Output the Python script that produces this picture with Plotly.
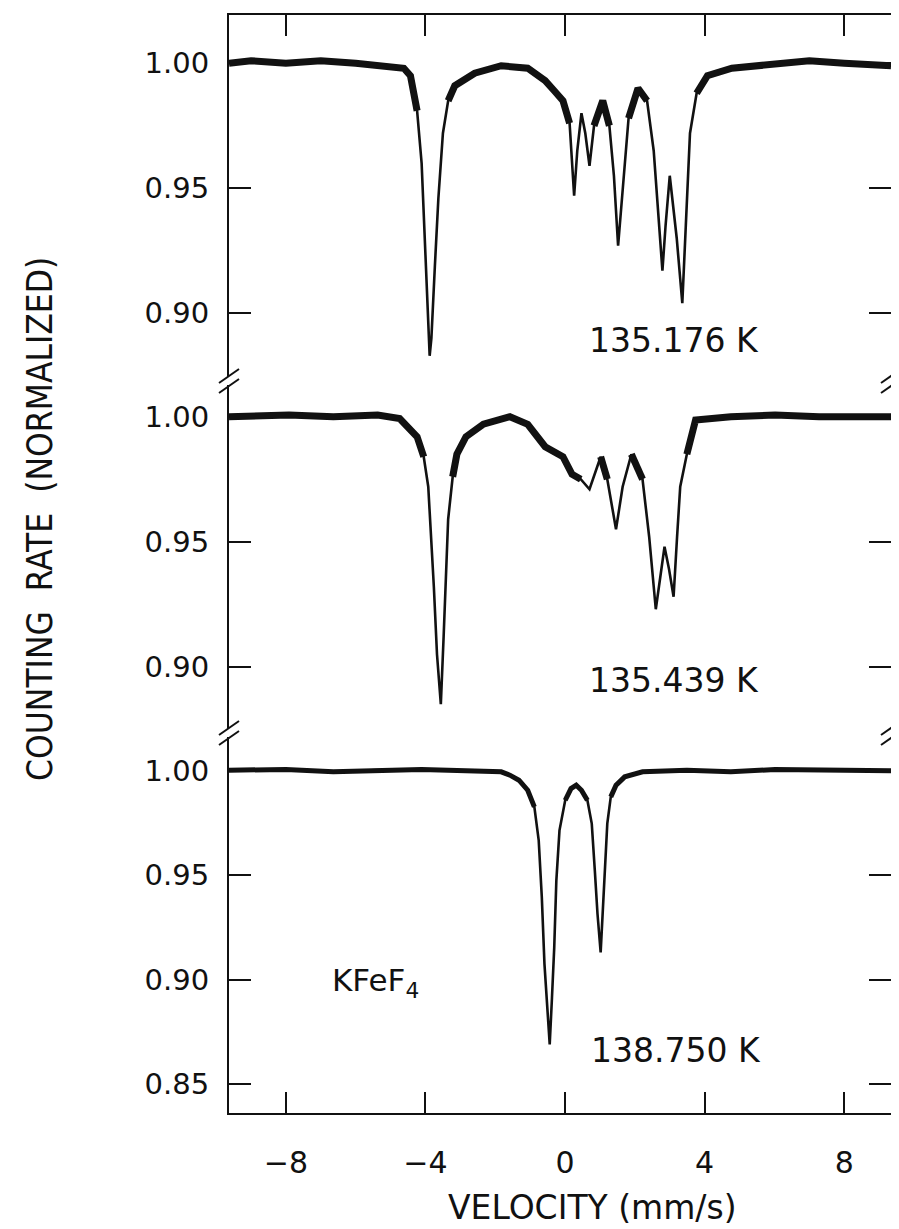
import numpy as np
import plotly.graph_objects as go

# ---------------- data ----------------
x_ticks = [-8, -4, 0, 4, 8]
y_ticks_upper = [0.90, 0.95, 1.00]
y_ticks_lower = [0.85, 0.90, 0.95, 1.00]

temp_labels = ["135.176 K", "135.439 K", "138.750 K"]
sample_label = "KFeF<sub>4</sub>"

v_135176 = [-9.63, -9.0, -8.0, -7.0, -6.0, -5.2, -4.62, -4.43, -4.24, -4.11, -4.05, -3.98,
            -3.92, -3.88, -3.83, -3.78, -3.73, -3.63, -3.50, -3.35, -3.16, -2.59, -1.83,
            -1.07, -0.57, -0.31, -0.06, 0.13, 0.26, 0.35, 0.47, 0.58, 0.70, 0.83, 1.08,
            1.27, 1.40, 1.52, 1.65, 1.82, 2.09, 2.35, 2.54, 2.66, 2.79, 2.88, 3.00, 3.20,
            3.36, 3.46, 3.58, 3.77, 4.08, 4.78, 6.0, 7.0, 8.0, 9.34]
r_135176 = [1.000, 1.001, 1.000, 1.001, 1.000, 0.999, 0.998, 0.995, 0.981, 0.960, 0.940, 0.920,
            0.895, 0.883, 0.890, 0.907, 0.919, 0.946, 0.972, 0.985, 0.991, 0.996, 0.999,
            0.998, 0.993, 0.989, 0.985, 0.976, 0.947, 0.965, 0.980, 0.972, 0.959, 0.975, 0.985,
            0.975, 0.955, 0.927, 0.950, 0.978, 0.990, 0.985, 0.965, 0.940, 0.917, 0.935, 0.955, 0.930,
            0.904, 0.935, 0.972, 0.988, 0.995, 0.998, 1.000, 1.001, 1.000, 0.999]

v_135439 = [-9.63, -7.91, -6.64, -5.37, -4.74, -4.49, -4.24, -4.05, -3.92, -3.86, -3.76, -3.67,
            -3.56, -3.48, -3.41, -3.35, -3.22, -3.10, -2.84, -2.34, -1.58, -1.07, -0.57, -0.06,
            0.20, 0.45, 0.70, 1.02, 1.21, 1.46, 1.65, 1.90, 2.22, 2.41, 2.60, 2.75, 2.85, 2.98,
            3.11, 3.21, 3.30, 3.49, 3.74, 4.75, 6.02, 7.28, 9.34]
r_135439 = [1.000, 1.0007, 1.000, 1.0007, 0.9993, 0.996, 0.992, 0.984, 0.972, 0.9587, 0.932, 0.905,
            0.885, 0.912, 0.939, 0.959, 0.976, 0.985, 0.992, 0.997, 1.000, 0.997, 0.988, 0.984,
            0.977, 0.975, 0.971, 0.984, 0.975, 0.955, 0.972, 0.985, 0.975, 0.952, 0.923, 0.939, 0.948, 0.939,
            0.928, 0.952, 0.972, 0.985, 0.9987, 1.000, 1.0007, 1.000, 1.000]

v_138750 = [-9.63, -8.0, -6.64, -5.37, -4.11, -2.84, -1.83, -1.58, -1.32, -1.07, -0.88, -0.755,
            -0.666, -0.59, -0.50, -0.44, -0.375, -0.31, -0.25, -0.16, 0.005, 0.17, 0.32, 0.47,
            0.64, 0.765, 0.853, 0.93, 1.02, 1.08, 1.14, 1.21, 1.31, 1.46, 1.71, 2.22, 3.49,
            4.75, 6.02, 7.28, 9.34]
r_138750 = [1.0003, 1.0006, 0.9995, 1.0003, 1.0006, 1.000, 0.9995, 0.9979, 0.9955, 0.9907, 0.9827, 0.9667,
            0.9394, 0.9074, 0.8833, 0.8689, 0.8913, 0.9154, 0.9474, 0.9715, 0.9859, 0.9915, 0.9931, 0.9907,
            0.9859, 0.9747, 0.9522, 0.9314, 0.913, 0.9314, 0.9554, 0.9747, 0.9875, 0.9931, 0.9971, 0.9995, 1.0003,
            0.9995, 1.0006, 1.0003, 1.000]

# ---------------- layout constants (page pixels) ----------------
OFF = 8                                   # default body margin of the html page
W, H = 899 - OFF, 1229 - OFF              # figure size
L, R, T, B = 229, 891, 15, 1113           # frame in page pixels
BR1, BR2 = 381, 733                       # panel breaks in page pixels
PH = B - T


def px_x(px):
    return (px - L) / (R - L)


def px_y(py):
    return (B - py) / PH


X_RANGE = [-9.63, 9.34]
panels = [
    dict(v=v_135176, r=r_135176, dom=[px_y(BR1), 1.0], rng=[0.8729, 1.0193],
         ticks=y_ticks_upper, thick=7, label=temp_labels[0], ly=0.8893, lx=0.62),
    dict(v=v_135439, r=r_135439, dom=[px_y(BR2), px_y(BR1)], rng=[0.8735, 1.0143],
         ticks=y_ticks_upper, thick=7, label=temp_labels[1], ly=0.8947, lx=0.62),
    dict(v=v_138750, r=r_138750, dom=[0.0, px_y(BR2)], rng=[0.8361, 1.0181],
         ticks=y_ticks_lower, thick=5, label=temp_labels[2], ly=0.8662, lx=0.68),
]

FONT = "DejaVu Sans, Verdana, sans-serif"
INK = "#111111"

fig = go.Figure()
annotations = []
layout = dict(
    width=W, height=H,
    margin=dict(l=L - OFF, r=(W + OFF) - R, t=T - OFF, b=(H + OFF) - B, autoexpand=False),
    paper_bgcolor="white", plot_bgcolor="white",
    showlegend=False, template="none",
    font=dict(family=FONT, color=INK),
)

for i, p in enumerate(panels):
    n = "" if i == 0 else str(i + 1)
    xa, ya = "x" + n, "y" + n
    v = np.array(p["v"], dtype=float)
    r = np.array(p["r"], dtype=float)
    # thin trace for the whole spectrum
    fig.add_trace(go.Scatter(x=v, y=r, mode="lines", xaxis=xa, yaxis=ya,
                             line=dict(color=INK, width=2.6), hoverinfo="skip"))
    # noisy, dense baseline band drawn thicker
    rb = np.where(r >= 0.975, r, np.nan)
    fig.add_trace(go.Scatter(x=v, y=rb, mode="lines", xaxis=xa, yaxis=ya, connectgaps=False,
                             line=dict(color=INK, width=p["thick"]), hoverinfo="skip"))

    xax = dict(domain=[0, 1], range=X_RANGE, anchor=ya, showgrid=False, zeroline=False,
               tickvals=x_ticks, ticks="inside", ticklen=21, tickwidth=2, tickcolor=INK,
               linecolor=INK, linewidth=2, automargin=False)
    if i == 0:
        xax.update(side="top", showline=True, showticklabels=False)
    elif i == 1:
        xax.update(showline=False, ticks="", showticklabels=False, matches="x")
    else:
        xax.update(showline=True, showticklabels=True, matches="x",
                   tickfont=dict(size=30, family=FONT, color=INK), ticklabelstandoff=22)
    yax = dict(domain=p["dom"], range=p["rng"], anchor=xa, showgrid=False, zeroline=False,
               tickvals=p["ticks"], ticktext=["%.2f" % t for t in p["ticks"]],
               ticks="inside", ticklen=22, tickwidth=2, tickcolor=INK,
               showline=True, mirror="ticks", linecolor=INK, linewidth=2,
               tickfont=dict(size=29, family=FONT, color=INK), ticklabelstandoff=12,
               automargin=False)
    layout["xaxis" + n] = xax
    layout["yaxis" + n] = yax

    annotations.append(dict(x=p["lx"], y=p["ly"], xref=xa, yref=ya, text=p["label"],
                            showarrow=False, xanchor="left", yanchor="middle",
                            font=dict(size=33, family=FONT, color=INK)))

annotations.append(dict(x=-6.74, y=0.8988, xref="x3", yref="y3", text=sample_label,
                        showarrow=False, xanchor="left", yanchor="middle",
                        font=dict(size=31, family=FONT, color=INK)))
annotations.append(dict(x=px_x(592), y=px_y(1207), xref="paper", yref="paper",
                        text="VELOCITY (mm/s)", showarrow=False, xanchor="center",
                        yanchor="middle", font=dict(size=33, family=FONT, color=INK)))
annotations.append(dict(x=px_x(40), y=px_y(519), xref="paper", yref="paper",
                        text="COUNTING\u00a0\u00a0RATE\u00a0\u00a0(NORMALIZED)", textangle=-90,
                        showarrow=False, xanchor="center", yanchor="middle",
                        font=dict(size=35, family="Liberation Sans Narrow, DejaVu Sans Condensed, Arial Narrow, sans-serif",
                                  color=INK)))

# axis-break marks on the frame
shapes = []
for bx in (L, R):
    for by in (BR1, BR2):
        shapes.append(dict(type="line", xref="paper", yref="paper",
                           x0=px_x(bx), y0=px_y(by - 4), x1=px_x(bx), y1=px_y(by + 4),
                           line=dict(color="white", width=4), layer="above"))
        for dy in (-5, 5):
            shapes.append(dict(type="line", xref="paper", yref="paper",
                               x0=px_x(bx - 10), y0=px_y(by + dy + 7),
                               x1=px_x(bx + 10), y1=px_y(by + dy - 7),
                               line=dict(color=INK, width=2), layer="above"))

layout["annotations"] = annotations
layout["shapes"] = shapes
fig.update_layout(**layout)
fig.write_html("out.html")
